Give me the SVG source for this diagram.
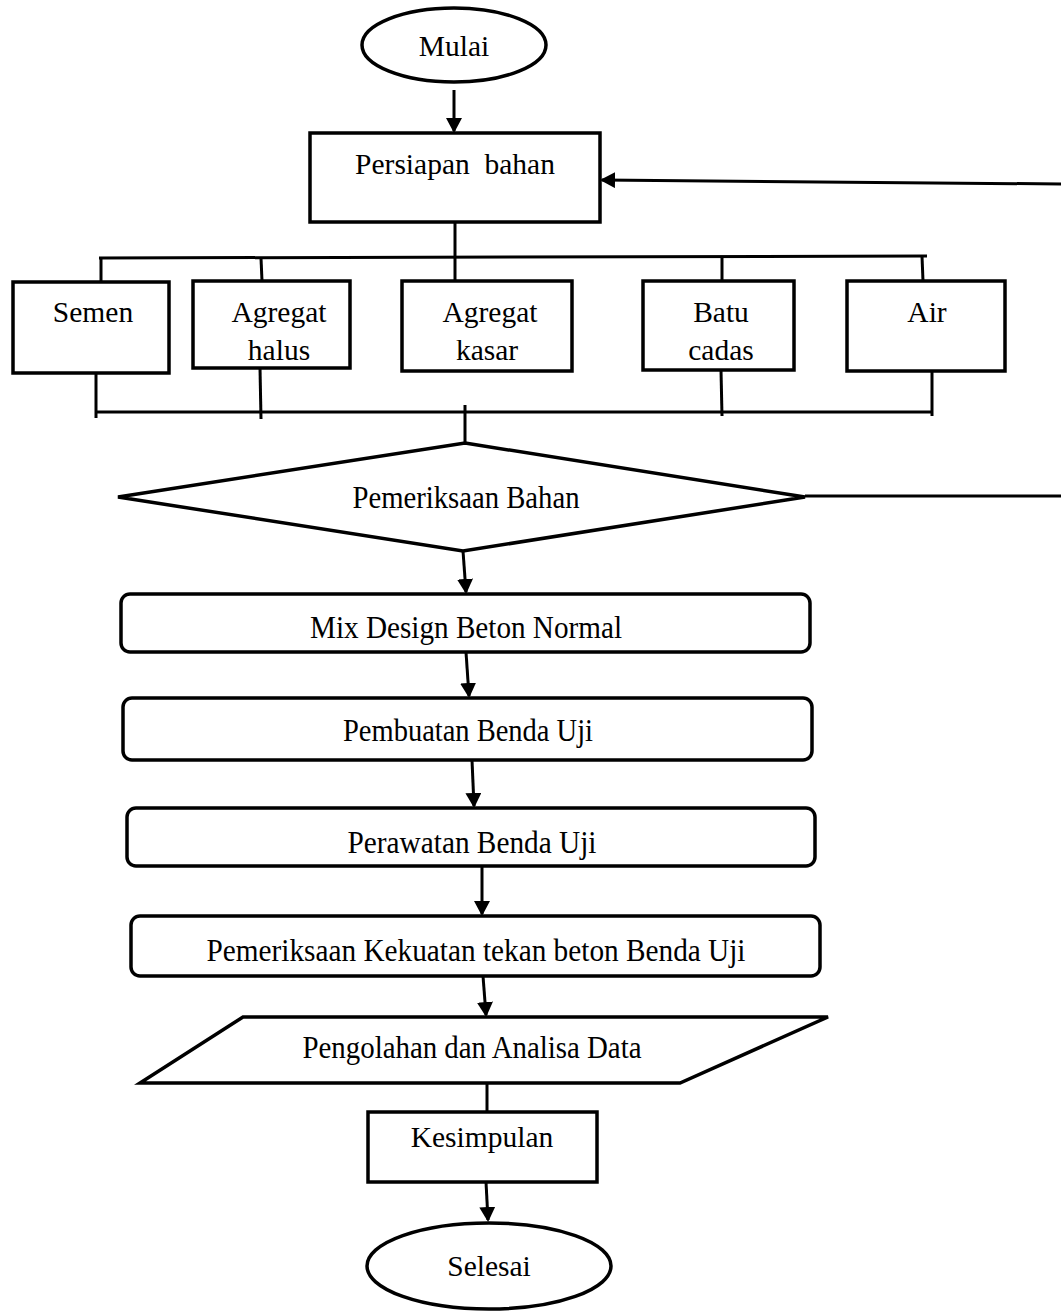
<svg xmlns="http://www.w3.org/2000/svg" width="1061" height="1315" viewBox="0 0 1061 1315">
  <style>
    .shape { fill: #ffffff; stroke: #000000; stroke-width: 3.5; }
    .conn { fill: none; stroke: #000000; stroke-width: 3; }
    .label { font-family: "Liberation Serif", "Times New Roman", serif; font-size: 29.5px; fill: #000000; text-anchor: middle; }
    .tall { font-family: "Liberation Serif", "Times New Roman", serif; font-size: 32px; fill: #000000; text-anchor: middle; }
  </style>
  <defs>
    <marker id="arrow" viewBox="0 0 15 16" refX="13" refY="8" markerWidth="15" markerHeight="16" markerUnits="userSpaceOnUse" orient="auto">
      <path d="M0,0 L15,8 L0,16 z" fill="#000000"/>
    </marker>
  </defs>
  <rect width="1061" height="1315" fill="#ffffff"/>

  <g id="connectors">
    <line class="conn" x1="454" y1="90" x2="454" y2="131" marker-end="url(#arrow)"/>
    <line class="conn" x1="1061" y1="184" x2="602" y2="180" marker-end="url(#arrow)"/>
    <line class="conn" x1="455" y1="222" x2="455" y2="281"/>
    <line class="conn" x1="99" y1="258" x2="927" y2="256"/>
    <line class="conn" x1="101" y1="258" x2="101" y2="282"/>
    <line class="conn" x1="261" y1="258" x2="262" y2="281"/>
    <line class="conn" x1="722" y1="256" x2="722" y2="280"/>
    <line class="conn" x1="922" y1="256" x2="923" y2="281"/>
    <line class="conn" x1="96" y1="412" x2="932" y2="412"/>
    <line class="conn" x1="96" y1="373" x2="96" y2="418"/>
    <line class="conn" x1="260" y1="368" x2="261" y2="419"/>
    <line class="conn" x1="721" y1="370" x2="722" y2="416"/>
    <line class="conn" x1="932" y1="371" x2="932" y2="416"/>
    <line class="conn" x1="465" y1="405" x2="465" y2="443"/>
    <line class="conn" x1="805" y1="496" x2="1061" y2="496"/>
    <line class="conn" x1="463" y1="551" x2="466" y2="592" marker-end="url(#arrow)"/>
    <line class="conn" x1="466" y1="652" x2="469" y2="696" marker-end="url(#arrow)"/>
    <line class="conn" x1="472" y1="760" x2="474" y2="806" marker-end="url(#arrow)"/>
    <line class="conn" x1="482" y1="866" x2="482" y2="914" marker-end="url(#arrow)"/>
    <line class="conn" x1="483" y1="976" x2="486" y2="1015" marker-end="url(#arrow)"/>
    <line class="conn" x1="487" y1="1083" x2="487" y2="1112"/>
    <line class="conn" x1="486" y1="1182" x2="488" y2="1220" marker-end="url(#arrow)"/>
  </g>

  <g id="mulai">
    <ellipse class="shape" cx="454" cy="45" rx="92" ry="37"/>
    <text class="label" x="454" y="56">Mulai</text>
  </g>
  <g id="persiapan-bahan">
    <rect class="shape" x="310" y="133" width="290" height="89"/>
    <text class="label" x="455" y="174" xml:space="preserve">Persiapan  bahan</text>
  </g>
  <g id="semen">
    <rect class="shape" x="13" y="282" width="156" height="91"/>
    <text class="label" x="93" y="322">Semen</text>
  </g>
  <g id="agregat-halus">
    <rect class="shape" x="193" y="281" width="157" height="87"/>
    <text class="label" x="279" y="322">Agregat</text>
    <text class="label" x="279" y="360">halus</text>
  </g>
  <g id="agregat-kasar">
    <rect class="shape" x="402" y="281" width="170" height="90"/>
    <text class="label" x="490" y="322">Agregat</text>
    <text class="label" x="487" y="360">kasar</text>
  </g>
  <g id="batu-cadas">
    <rect class="shape" x="643" y="281" width="151" height="89"/>
    <text class="label" x="721" y="322">Batu</text>
    <text class="label" x="721" y="360">cadas</text>
  </g>
  <g id="air">
    <rect class="shape" x="847" y="281" width="158" height="90"/>
    <text class="label" x="927" y="322">Air</text>
  </g>
  <g id="pemeriksaan-bahan">
    <polygon class="shape" points="465,443 805,497 463,551 118,497"/>
    <text class="tall" x="466" y="508" textLength="227" lengthAdjust="spacingAndGlyphs">Pemeriksaan Bahan</text>
  </g>
  <g id="mix-design">
    <rect class="shape" x="121" y="594" width="689" height="58" rx="9"/>
    <text class="tall" x="466" y="638" textLength="312" lengthAdjust="spacingAndGlyphs">Mix Design Beton Normal</text>
  </g>
  <g id="pembuatan-benda-uji">
    <rect class="shape" x="123" y="698" width="689" height="62" rx="9"/>
    <text class="tall" x="468" y="741" textLength="250" lengthAdjust="spacingAndGlyphs">Pembuatan Benda Uji</text>
  </g>
  <g id="perawatan-benda-uji">
    <rect class="shape" x="127" y="808" width="688" height="58" rx="9"/>
    <text class="tall" x="472" y="853" textLength="249" lengthAdjust="spacingAndGlyphs">Perawatan Benda Uji</text>
  </g>
  <g id="pemeriksaan-kekuatan">
    <rect class="shape" x="131" y="916" width="689" height="60" rx="9"/>
    <text class="tall" x="476" y="961" textLength="539" lengthAdjust="spacingAndGlyphs">Pemeriksaan Kekuatan tekan beton Benda Uji</text>
  </g>
  <g id="pengolahan-data">
    <polygon class="shape" points="243,1017 828,1017 680,1083 140,1083"/>
    <text class="tall" x="472" y="1058" textLength="339" lengthAdjust="spacingAndGlyphs">Pengolahan dan Analisa Data</text>
  </g>
  <g id="kesimpulan">
    <rect class="shape" x="368" y="1112" width="229" height="70"/>
    <text class="label" x="482" y="1147">Kesimpulan</text>
  </g>
  <g id="selesai">
    <ellipse class="shape" cx="489" cy="1266" rx="122" ry="43"/>
    <text class="label" x="489" y="1276">Selesai</text>
  </g>
</svg>
